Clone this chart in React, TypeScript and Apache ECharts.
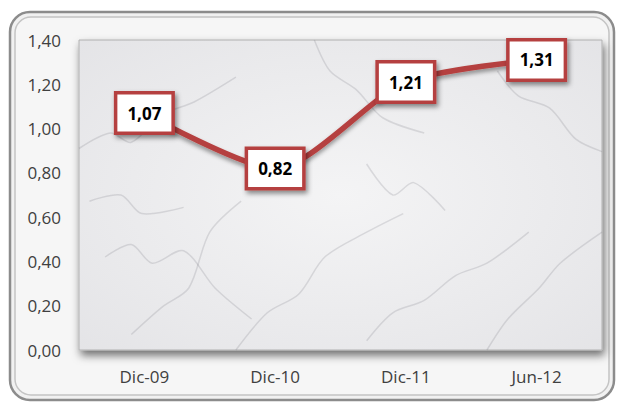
import React, { useEffect, useRef } from "react";
import * as echarts from "echarts";

const categories = ["Dic-09", "Dic-10", "Dic-11", "Jun-12"];
const values = [1.07, 0.82, 1.21, 1.31];
const yMin = 0;
const yMax = 1.4;
const yStep = 0.2;

const fmt = (v: number) => v.toFixed(2).replace(".", ",");

// decorative marble veins (relative to plot area, fractions)
const veins: number[][][] = [
  [[0.0, 0.35], [0.06, 0.3], [0.1, 0.33], [0.16, 0.24], [0.22, 0.2], [0.3, 0.12]],
  [[0.05, 0.7], [0.1, 0.66], [0.14, 0.72], [0.2, 0.68], [0.26, 0.8], [0.33, 0.9]],
  [[0.3, 1.0], [0.36, 0.88], [0.42, 0.82], [0.47, 0.7], [0.55, 0.62], [0.62, 0.56]],
  [[0.55, 0.97], [0.6, 0.88], [0.66, 0.84], [0.72, 0.76], [0.78, 0.72], [0.86, 0.62]],
  [[0.78, 1.0], [0.82, 0.9], [0.88, 0.8], [0.92, 0.72], [1.0, 0.62]],
  [[0.45, 0.0], [0.48, 0.1], [0.53, 0.16], [0.58, 0.25], [0.66, 0.3]],
  [[0.8, 0.1], [0.84, 0.18], [0.9, 0.22], [0.95, 0.32], [1.0, 0.36]],
  [[0.1, 0.95], [0.16, 0.86], [0.21, 0.8], [0.25, 0.62], [0.31, 0.52]],
  [[0.55, 0.4], [0.6, 0.5], [0.64, 0.46], [0.7, 0.55]],
  [[0.02, 0.52], [0.08, 0.5], [0.12, 0.56], [0.2, 0.54]],
];

export default function App() {
  const ref = useRef<HTMLDivElement>(null);
  useEffect(() => {
    if (!ref.current) return;
    const chart = echarts.init(ref.current, undefined, { renderer: "svg" });
    const gx = 79, gy = 40, gw = 523, gh = 310;
    const veinEls = veins.map((v) => ({
      type: "polyline",
      silent: true,
      z: -5,
      shape: { points: v.map((p) => [gx + p[0] * gw, gy + p[1] * gh]), smooth: 0.3 },
      style: { stroke: "rgba(100,100,110,0.18)", lineWidth: 1.5, fill: null },
    }));
    chart.setOption({
      animation: false,
      backgroundColor: "#ffffff",
      graphic: [
        {
          type: "rect",
          silent: true,
          z: -20,
          shape: { x: 10, y: 12, width: 604, height: 388, r: 20 },
          style: { fill: "#f1f1f1", stroke: "#8c8c8c", lineWidth: 2.5 },
        },
        {
          type: "rect",
          silent: true,
          z: -19,
          shape: { x: 15, y: 17, width: 594, height: 378, r: 16 },
          style: { fill: "#f6f6f6", stroke: "#c4c4c4", lineWidth: 1.5 },
        },
        {
          type: "rect",
          silent: true,
          z: -10,
          shape: { x: gx, y: gy, width: gw, height: gh },
          style: {
            fill: new echarts.graphic.RadialGradient(0.5, 0.5, 0.8, [
              { offset: 0, color: "#f4f4f5" },
              { offset: 1, color: "#e2e2e5" },
            ]),
            stroke: "#b0b0b0",
            lineWidth: 1,
            shadowBlur: 8,
            shadowOffsetX: 2,
            shadowOffsetY: 5,
            shadowColor: "rgba(0,0,0,0.55)",
          },
        },
        ...veinEls,
      ],
      grid: { left: gx, top: gy, width: gw, height: gh, containLabel: false },
      xAxis: {
        type: "category",
        data: categories,
        boundaryGap: true,
        axisLine: { show: false },
        axisTick: { show: false },
        axisLabel: {
          color: "#404040",
          fontSize: 17,
          fontFamily: "Open Sans",
          margin: 18,
        },
      },
      yAxis: {
        type: "value",
        min: yMin,
        max: yMax,
        interval: yStep,
        splitLine: { show: false },
        axisLine: { show: false },
        axisTick: { show: false },
        axisLabel: {
          color: "#404040",
          fontSize: 17,
          fontFamily: "Open Sans",
          margin: 18,
          formatter: (v: number) => fmt(v),
        },
      },
      series: [
        {
          type: "line",
          data: values,
          smooth: 0.25,
          symbol: "circle",
          symbolSize: 2,
          showSymbol: true,
          itemStyle: { color: "#b5403f" },
          lineStyle: {
            color: "#b5403f",
            width: 5.5,
            shadowBlur: 4,
            shadowOffsetY: 3,
            shadowColor: "rgba(0,0,0,0.4)",
          },
          label: {
            show: true,
            position: "inside",
            formatter: (p: any) => fmt(p.value),
            color: "#000",
            fontSize: 17,
            lineHeight: 22,
            fontWeight: "bold",
            fontFamily: "Open Sans",
            backgroundColor: "#ffffff",
            borderColor: "#b5403f",
            borderWidth: 3.5,
            padding: [8, 10, 7, 10],
            shadowBlur: 5,
            shadowOffsetX: 2,
            shadowOffsetY: 3,
            shadowColor: "rgba(0,0,0,0.45)",
          },
        },
      ],
    });
    return () => chart.dispose();
  }, []);
  return (
    <div
      ref={ref}
      style={{ position: "fixed", left: 0, top: 0, width: 621, height: 407 }}
    />
  );
}
